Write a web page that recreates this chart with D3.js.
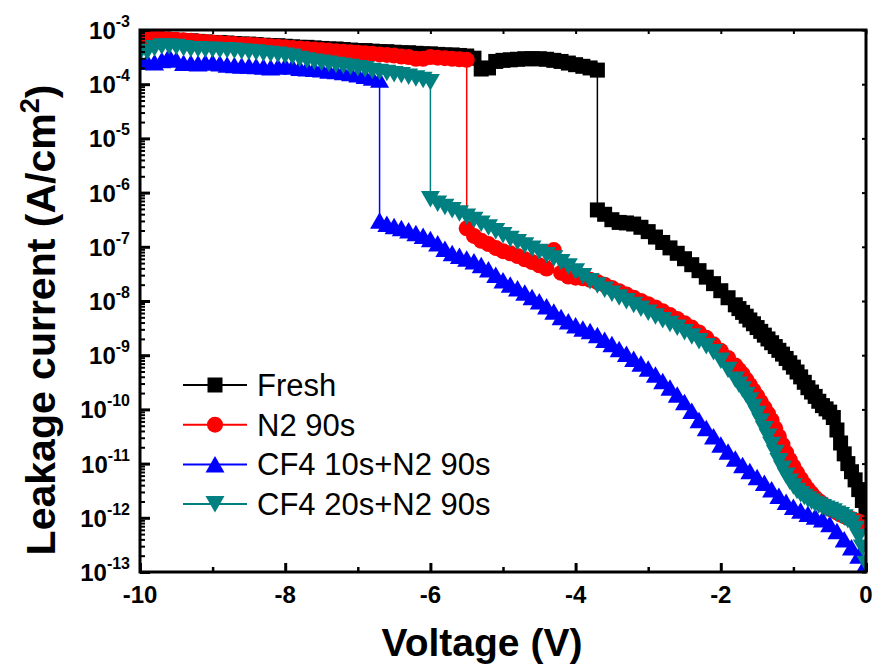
<!DOCTYPE html>
<html>
<head>
<meta charset="utf-8">
<script src="https://cdn.jsdelivr.net/npm/d3@7"></script>
<style>
  body { margin: 0; background: #fff; }
  svg { display: block; font-family: "Liberation Sans", Arial, sans-serif; }
</style>
</head>
<body>
<svg id="chart" width="873" height="664"></svg>
<script>
// log10 of leakage current (A/cm2)
// A: every 0.1 V from -10 V to the breakdown voltage
// B: every 0.1 V from breakdown onward
// tail: every 0.05 V from -1.8 V to 0 V (steep part, denser sweep)
var step = 0.1, tailStep = 0.05, tailStart = -1.8;

var freshJump = -3.7;
var freshLogA = [-3.15,-3.16,-3.17,-3.17,-3.18,-3.19,-3.20,-3.20,-3.21,-3.22,
  -3.23,-3.23,-3.24,-3.25,-3.26,-3.26,-3.27,-3.28,-3.29,-3.29,
  -3.30,-3.31,-3.32,-3.32,-3.33,-3.34,-3.35,-3.35,-3.36,-3.37,
  -3.38,-3.38,-3.39,-3.40,-3.40,-3.41,-3.42,-3.42,-3.43,-3.44,
  -3.44,-3.45,-3.46,-3.46,-3.47,-3.48,-3.52,-3.72,-3.70,-3.58,
  -3.56,-3.55,-3.54,-3.53,-3.53,-3.53,-3.54,-3.56,-3.58,-3.61,
  -3.64,-3.67,-3.70,-3.74];
var freshLogB = [-6.32,-6.40,-6.50,-6.55,-6.56,-6.58,-6.64,-6.72,-6.82,-6.92,
  -7.02,-7.12,-7.22,-7.33,-7.44,-7.56,-7.68,-7.81,-7.94];
var freshTail = [-8.07,-8.14,-8.21,-8.28,-8.35,-8.42,-8.49,-8.56,-8.63,-8.70,
  -8.77,-8.84,-8.91,-8.98,-9.06,-9.14,-9.22,-9.31,-9.40,-9.50,
  -9.60,-9.68,-9.76,-9.85,-9.93,-9.99,-10.05,-10.15,-10.38,-10.62,
  -10.82,-11.00,-11.15,-11.30,-11.48,-11.68,-11.92];

var n2Jump = -5.5;
var n2LogA = [-3.13,-3.14,-3.15,-3.16,-3.17,-3.18,-3.19,-3.20,-3.21,-3.22,
  -3.23,-3.24,-3.25,-3.26,-3.27,-3.27,-3.28,-3.29,-3.30,-3.31,
  -3.32,-3.33,-3.34,-3.35,-3.36,-3.37,-3.38,-3.39,-3.40,-3.41,
  -3.42,-3.43,-3.44,-3.45,-3.46,-3.47,-3.49,-3.50,-3.53,-3.53,
  -3.50,-3.51,-3.52,-3.53,-3.54,-3.55];
var n2LogB = [-6.66,-6.80,-6.89,-6.95,-7.02,-7.08,
  -7.12,-7.17,-7.23,-7.28,-7.34,-7.40,-7.06,-7.48,-7.55,-7.57,
  -7.58,-7.61,-7.65,-7.70,-7.76,-7.82,-7.88,-7.94,-8.00,-8.06,
  -8.12,-8.19,-8.26,-8.33,-8.41,-8.49,-8.58,-8.68,-8.80,-8.92,
  -9.05];
var n2Tail = [-9.19,-9.27,-9.35,-9.45,-9.55,-9.65,-9.75,-9.86,-9.97,-10.08,
  -10.20,-10.35,-10.50,-10.65,-10.80,-10.93,-11.05,-11.17,-11.28,-11.38,
  -11.47,-11.55,-11.63,-11.69,-11.74,-11.79,-11.83,-11.87,-11.90,-11.94,
  -11.97,-12.00,-12.02,-12.05,-12.07,-12.10,-12.12];

var cf10Jump = -6.7;
var cf10LogA = [-3.59,-3.59,-3.60,-3.56,-3.48,-3.55,-3.61,-3.61,-3.62,-3.60,
  -3.60,-3.62,-3.64,-3.65,-3.66,-3.66,-3.67,-3.68,-3.69,-3.68,
  -3.66,-3.68,-3.70,-3.71,-3.72,-3.73,-3.75,-3.76,-3.78,-3.80,
  -3.82,-3.85,-3.88,-3.92];
var cf10LogB = [-6.52,-6.58,-6.62,-6.66,-6.70,-6.75,-6.80,-6.86,
  -6.94,-7.04,-7.12,-7.17,-7.22,-7.27,-7.34,-7.42,-7.52,-7.62,
  -7.70,-7.77,-7.85,-7.93,-8.01,-8.10,-8.20,-8.30,-8.38,-8.45,
  -8.51,-8.56,-8.63,-8.72,-8.80,-8.89,-8.98,-9.07,-9.16,-9.25,
  -9.36,-9.48,-9.60,-9.73,-9.87,-10.03,-10.20,-10.35,-10.50,-10.65,
  -10.78,-10.91,-11.03,-11.14,-11.25,-11.36,-11.48,-11.60,-11.71,-11.80,
  -11.87,-11.93,-11.98,-12.03,-12.12,-12.25,-12.40,-12.55,-12.70,-12.85];

var cf20Jump = -6.0;
var cf20LogA = [-3.42,-3.40,-3.33,-3.30,-3.30,-3.31,-3.33,-3.35,-3.35,-3.36,
  -3.36,-3.37,-3.37,-3.38,-3.39,-3.40,-3.41,-3.43,-3.44,-3.45,
  -3.47,-3.49,-3.53,-3.56,-3.58,-3.60,-3.62,-3.64,-3.66,-3.68,
  -3.70,-3.72,-3.75,-3.77,-3.79,-3.81,-3.83,-3.86,-3.89,-3.92,
  -3.96];
var cf20LogB = [-6.12,-6.20,-6.26,-6.32,-6.38,-6.44,-6.50,-6.57,-6.64,-6.71,
  -6.78,-6.85,-6.91,-6.97,-7.03,-7.09,-7.15,-7.21,-7.28,-7.36,
  -7.45,-7.54,-7.63,-7.71,-7.79,-7.86,-7.93,-8.00,-8.07,-8.14,
  -8.21,-8.28,-8.35,-8.42,-8.49,-8.57,-8.65,-8.74,-8.83,-8.94,
  -9.10,-9.27];
var cf20Tail = [-9.45,-9.54,-9.63,-9.73,-9.83,-9.95,-10.08,-10.22,-10.36,-10.50,
  -10.65,-10.80,-10.95,-11.09,-11.22,-11.33,-11.42,-11.50,-11.56,-11.61,
  -11.66,-11.70,-11.74,-11.77,-11.80,-11.83,-11.85,-11.88,-11.92,-11.95,
  -11.99,-12.04,-12.10,-12.20,-12.35,-12.55,-12.85];

var seriesNames = ["Fresh", "N2 90s", "CF4 10s+N2 90s", "CF4 20s+N2 90s"];
var xTicks = [-10, -8, -6, -4, -2, 0];
var yExponents = [-3, -4, -5, -6, -7, -8, -9, -10, -11, -12, -13];

var margin = { top: 30, right: 7, bottom: 92, left: 140 },
  width = 873 - margin.left - margin.right,
  height = 664 - margin.top - margin.bottom;

var x = d3.scaleLinear().domain([-10, 0]).range([0, width]);
var y = d3.scaleLog().domain([1e-13, 1e-3]).range([height, 0]);

function build(logA, jump, logB, tail) {
  function pts(arr, v0, dv) {
    return arr.map(function(L, i) {
      return { v: Math.round((v0 + i * dv) * 100) / 100, c: Math.pow(10, L) };
    });
  }
  var out = pts(logA, -10, step).concat(pts(logB, jump, step));
  if (tail) out = out.concat(pts(tail, tailStart, tailStep));
  return out;
}

var series = [
  { name: seriesNames[0], color: "#000000", shape: "square", data: build(freshLogA, freshJump, freshLogB, freshTail) },
  { name: seriesNames[1], color: "#ff0000", shape: "circle", data: build(n2LogA, n2Jump, n2LogB, n2Tail) },
  { name: seriesNames[2], color: "#0000ff", shape: "up", data: build(cf10LogA, cf10Jump, cf10LogB) },
  { name: seriesNames[3], color: "#008080", shape: "down", data: build(cf20LogA, cf20Jump, cf20LogB, cf20Tail) }
];

var svg = d3.select("#chart")
  .append("g")
  .attr("transform", "translate(" + margin.left + "," + margin.top + ")");

svg.append("clipPath").attr("id", "clip")
  .append("rect").attr("width", width).attr("height", height);

function marker(sel, shape, color) {
  if (shape === "square") {
    sel.append("rect").attr("x", -7.5).attr("y", -7.5).attr("width", 15).attr("height", 15).attr("fill", color);
  } else if (shape === "circle") {
    sel.append("circle").attr("r", 8).attr("fill", color);
  } else if (shape === "up") {
    sel.append("path").attr("d", "M0,-8.5L9.5,8L-9.5,8Z").attr("fill", color);
  } else {
    sel.append("path").attr("d", "M0,8.5L9.5,-8L-9.5,-8Z").attr("fill", color);
  }
}

var line = d3.line()
  .x(function(d) { return x(d.v); })
  .y(function(d) { return y(d.c); });

var plot = svg.append("g").attr("clip-path", "url(#clip)");

series.forEach(function(s) {
  var g = plot.append("g");
  g.append("path")
    .datum(s.data)
    .attr("fill", "none")
    .attr("stroke", s.color)
    .attr("stroke-width", 1.5)
    .attr("d", line);
  g.selectAll("g.pt")
    .data(s.data)
    .enter().append("g")
      .attr("class", "pt")
      .attr("transform", function(d) { return "translate(" + x(d.v) + "," + y(d.c) + ")"; })
      .each(function() { marker(d3.select(this), s.shape, s.color); });
});

// axes, ticks point inward
var minorX = d3.range(-9, 0, 2);
var minorY = [];
yExponents.slice(1).forEach(function(e) {
  for (var k = 2; k <= 9; k++) minorY.push(k * Math.pow(10, e));
});

function styleAxis(g) {
  g.select(".domain").remove();
  g.selectAll("line").attr("stroke", "#000");
}

svg.append("g")
  .attr("transform", "translate(0," + height + ")")
  .call(d3.axisBottom(x).tickValues(xTicks).tickSize(-9).tickFormat(""))
  .call(styleAxis)
  .selectAll("line").attr("stroke-width", 3);
svg.append("g")
  .attr("transform", "translate(0," + height + ")")
  .call(d3.axisBottom(x).tickValues(minorX).tickSize(-5).tickFormat(""))
  .call(styleAxis)
  .selectAll("line").attr("stroke-width", 2.5);
svg.append("g")
  .call(d3.axisTop(x).tickValues(xTicks.concat(minorX)).tickSize(-4).tickFormat(""))
  .call(styleAxis)
  .selectAll("line").attr("stroke-width", 2);

svg.append("g")
  .call(d3.axisLeft(y).tickValues(yExponents.map(function(e) { return Math.pow(10, e); })).tickSize(-10).tickFormat(""))
  .call(styleAxis)
  .selectAll("line").attr("stroke-width", 3);
svg.append("g")
  .call(d3.axisLeft(y).tickValues(minorY).tickSize(-5).tickFormat(""))
  .call(styleAxis)
  .selectAll("line").attr("stroke-width", 2);
svg.append("g")
  .attr("transform", "translate(" + width + ",0)")
  .call(d3.axisRight(y).tickValues(yExponents.map(function(e) { return Math.pow(10, e); })).tickSize(-4).tickFormat(""))
  .call(styleAxis)
  .selectAll("line").attr("stroke-width", 2);

// frame
svg.append("rect")
  .attr("width", width).attr("height", height)
  .attr("fill", "none").attr("stroke", "#000").attr("stroke-width", 3);

// tick labels
svg.selectAll("text.xlab")
  .data(xTicks)
  .enter().append("text")
    .attr("class", "xlab")
    .attr("x", function(d) { return x(d); })
    .attr("y", height + 31)
    .attr("text-anchor", "middle")
    .attr("font-size", 24)
    .attr("font-weight", "bold")
    .text(function(d) { return d; });

var ylab = svg.selectAll("text.ylab")
  .data(yExponents)
  .enter().append("text")
    .attr("class", "ylab")
    .attr("x", -10)
    .attr("y", function(d) { return y(Math.pow(10, d)) + 9; })
    .attr("text-anchor", "end")
    .attr("font-weight", "bold");
ylab.append("tspan").attr("font-size", 24).text("10");
ylab.append("tspan").attr("font-size", 16).attr("dy", -12).text(function(d) { return d; });

// axis titles
svg.append("text")
  .attr("x", 342)
  .attr("y", 626)
  .attr("text-anchor", "middle")
  .attr("font-size", 39)
  .attr("font-weight", "bold")
  .text("Voltage (V)");

var yt = svg.append("text")
  .attr("transform", "translate(-85,290) rotate(-90)")
  .attr("text-anchor", "middle")
  .attr("font-size", 41)
  .attr("font-weight", "bold");
yt.append("tspan").text("Leakage current (A/cm");
yt.append("tspan").attr("font-size", 27).attr("dy", -16).text("2");
yt.append("tspan").attr("dy", 16).text(")");

// legend
var legend = svg.selectAll("g.leg")
  .data(series)
  .enter().append("g")
    .attr("class", "leg")
    .attr("transform", function(d, i) { return "translate(43," + (355 + i * 39.7) + ")"; });
legend.append("line")
  .attr("x1", 0).attr("x2", 64)
  .attr("stroke", function(d) { return d.color; })
  .attr("stroke-width", 2);
legend.each(function(d) {
  var m = d3.select(this).append("g").attr("transform", "translate(32,0)");
  marker(m, d.shape, d.color);
});
legend.append("text")
  .attr("x", 74)
  .attr("y", 11)
  .attr("font-size", 31)
  .text(function(d) { return d.name; });
</script>
</body>
</html>
